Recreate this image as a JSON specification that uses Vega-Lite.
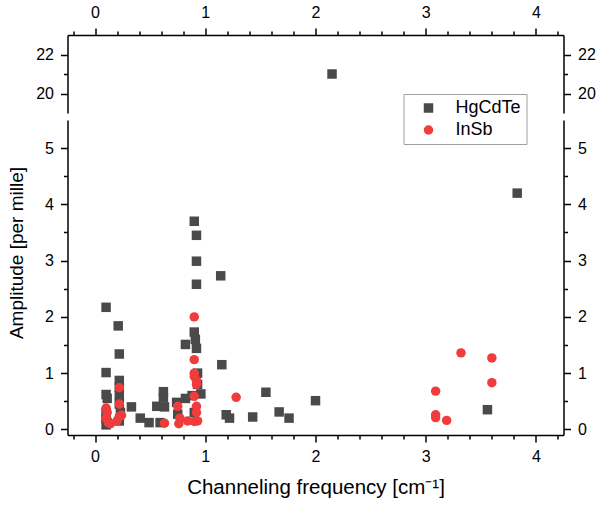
{
  "$schema": "https://vega.github.io/schema/vega-lite/v6.json",
  "padding": {"left": 6.5, "top": 4, "right": 4, "bottom": 4},
  "background": "white",
  "data": {"values": [
    {"Material": "HgCdTe", "Frequency": 0.10, "Amplitude": 2.17},
    {"Material": "HgCdTe", "Frequency": 0.10, "Amplitude": 1.01},
    {"Material": "HgCdTe", "Frequency": 0.10, "Amplitude": 0.62},
    {"Material": "HgCdTe", "Frequency": 0.11, "Amplitude": 0.55},
    {"Material": "HgCdTe", "Frequency": 0.10, "Amplitude": 0.30},
    {"Material": "HgCdTe", "Frequency": 0.10, "Amplitude": 0.20},
    {"Material": "HgCdTe", "Frequency": 0.11, "Amplitude": 0.12},
    {"Material": "HgCdTe", "Frequency": 0.10, "Amplitude": 0.08},
    {"Material": "HgCdTe", "Frequency": 0.21, "Amplitude": 1.84},
    {"Material": "HgCdTe", "Frequency": 0.22, "Amplitude": 1.34},
    {"Material": "HgCdTe", "Frequency": 0.22, "Amplitude": 0.87},
    {"Material": "HgCdTe", "Frequency": 0.22, "Amplitude": 0.75},
    {"Material": "HgCdTe", "Frequency": 0.22, "Amplitude": 0.60},
    {"Material": "HgCdTe", "Frequency": 0.22, "Amplitude": 0.45},
    {"Material": "HgCdTe", "Frequency": 0.23, "Amplitude": 0.30},
    {"Material": "HgCdTe", "Frequency": 0.22, "Amplitude": 0.15},
    {"Material": "HgCdTe", "Frequency": 0.33, "Amplitude": 0.40},
    {"Material": "HgCdTe", "Frequency": 0.41, "Amplitude": 0.20},
    {"Material": "HgCdTe", "Frequency": 0.49, "Amplitude": 0.12},
    {"Material": "HgCdTe", "Frequency": 0.59, "Amplitude": 0.12},
    {"Material": "HgCdTe", "Frequency": 0.56, "Amplitude": 0.41},
    {"Material": "HgCdTe", "Frequency": 0.62, "Amplitude": 0.67},
    {"Material": "HgCdTe", "Frequency": 0.62, "Amplitude": 0.56},
    {"Material": "HgCdTe", "Frequency": 0.63, "Amplitude": 0.40},
    {"Material": "HgCdTe", "Frequency": 0.74, "Amplitude": 0.48},
    {"Material": "HgCdTe", "Frequency": 0.75, "Amplitude": 0.27},
    {"Material": "HgCdTe", "Frequency": 0.82, "Amplitude": 0.55},
    {"Material": "HgCdTe", "Frequency": 0.82, "Amplitude": 1.51},
    {"Material": "HgCdTe", "Frequency": 0.88, "Amplitude": 0.60},
    {"Material": "HgCdTe", "Frequency": 0.90, "Amplitude": 3.70},
    {"Material": "HgCdTe", "Frequency": 0.92, "Amplitude": 3.45},
    {"Material": "HgCdTe", "Frequency": 0.92, "Amplitude": 2.99},
    {"Material": "HgCdTe", "Frequency": 0.92, "Amplitude": 2.58},
    {"Material": "HgCdTe", "Frequency": 0.90, "Amplitude": 1.73},
    {"Material": "HgCdTe", "Frequency": 0.91, "Amplitude": 1.60},
    {"Material": "HgCdTe", "Frequency": 0.92, "Amplitude": 1.44},
    {"Material": "HgCdTe", "Frequency": 0.93, "Amplitude": 1.00},
    {"Material": "HgCdTe", "Frequency": 0.93, "Amplitude": 0.80},
    {"Material": "HgCdTe", "Frequency": 0.96, "Amplitude": 0.63},
    {"Material": "HgCdTe", "Frequency": 0.90, "Amplitude": 0.30},
    {"Material": "HgCdTe", "Frequency": 1.14, "Amplitude": 2.73},
    {"Material": "HgCdTe", "Frequency": 1.15, "Amplitude": 1.15},
    {"Material": "HgCdTe", "Frequency": 1.19, "Amplitude": 0.26},
    {"Material": "HgCdTe", "Frequency": 1.22, "Amplitude": 0.20},
    {"Material": "HgCdTe", "Frequency": 1.43, "Amplitude": 0.22},
    {"Material": "HgCdTe", "Frequency": 1.55, "Amplitude": 0.66},
    {"Material": "HgCdTe", "Frequency": 1.67, "Amplitude": 0.31},
    {"Material": "HgCdTe", "Frequency": 1.76, "Amplitude": 0.20},
    {"Material": "HgCdTe", "Frequency": 2.00, "Amplitude": 0.51},
    {"Material": "HgCdTe", "Frequency": 2.15, "Amplitude": 21.0},
    {"Material": "HgCdTe", "Frequency": 3.56, "Amplitude": 0.35},
    {"Material": "HgCdTe", "Frequency": 3.83, "Amplitude": 4.20},
    {"Material": "InSb", "Frequency": 0.10, "Amplitude": 0.38},
    {"Material": "InSb", "Frequency": 0.11, "Amplitude": 0.30},
    {"Material": "InSb", "Frequency": 0.10, "Amplitude": 0.20},
    {"Material": "InSb", "Frequency": 0.12, "Amplitude": 0.12},
    {"Material": "InSb", "Frequency": 0.14, "Amplitude": 0.10},
    {"Material": "InSb", "Frequency": 0.20, "Amplitude": 0.15},
    {"Material": "InSb", "Frequency": 0.22, "Amplitude": 0.23},
    {"Material": "InSb", "Frequency": 0.22, "Amplitude": 0.74},
    {"Material": "InSb", "Frequency": 0.22, "Amplitude": 0.45},
    {"Material": "InSb", "Frequency": 0.24, "Amplitude": 0.25},
    {"Material": "InSb", "Frequency": 0.63, "Amplitude": 0.11},
    {"Material": "InSb", "Frequency": 0.75, "Amplitude": 0.41},
    {"Material": "InSb", "Frequency": 0.77, "Amplitude": 0.20},
    {"Material": "InSb", "Frequency": 0.76, "Amplitude": 0.10},
    {"Material": "InSb", "Frequency": 0.84, "Amplitude": 0.15},
    {"Material": "InSb", "Frequency": 0.90, "Amplitude": 0.14},
    {"Material": "InSb", "Frequency": 0.90, "Amplitude": 2.00},
    {"Material": "InSb", "Frequency": 0.90, "Amplitude": 1.24},
    {"Material": "InSb", "Frequency": 0.90, "Amplitude": 1.00},
    {"Material": "InSb", "Frequency": 0.90, "Amplitude": 0.94},
    {"Material": "InSb", "Frequency": 0.92, "Amplitude": 0.87},
    {"Material": "InSb", "Frequency": 0.92, "Amplitude": 0.80},
    {"Material": "InSb", "Frequency": 0.90, "Amplitude": 0.59},
    {"Material": "InSb", "Frequency": 0.92, "Amplitude": 0.41},
    {"Material": "InSb", "Frequency": 0.92, "Amplitude": 0.30},
    {"Material": "InSb", "Frequency": 0.93, "Amplitude": 0.15},
    {"Material": "InSb", "Frequency": 1.28, "Amplitude": 0.57},
    {"Material": "InSb", "Frequency": 3.09, "Amplitude": 0.68},
    {"Material": "InSb", "Frequency": 3.09, "Amplitude": 0.26},
    {"Material": "InSb", "Frequency": 3.09, "Amplitude": 0.21},
    {"Material": "InSb", "Frequency": 3.19, "Amplitude": 0.16},
    {"Material": "InSb", "Frequency": 3.32, "Amplitude": 1.36},
    {"Material": "InSb", "Frequency": 3.60, "Amplitude": 1.27},
    {"Material": "InSb", "Frequency": 3.60, "Amplitude": 0.83}
  ]},
  "spacing": 7,
  "vconcat": [
    {
      "width": 496,
      "height": 78,
      "encoding": {
        "x": {
          "field": "Frequency",
          "type": "quantitative",
          "scale": {"domain": [-0.25, 4.25], "nice": false, "zero": false},
          "axis": {
            "orient": "top",
            "title": null,
            "labelPadding": 8,
            "values": [-0.2, 0, 0.2, 0.4, 0.6, 0.8, 1, 1.2, 1.4, 1.6, 1.8, 2, 2.2, 2.4, 2.6, 2.8, 3, 3.2, 3.4, 3.6, 3.8, 4, 4.2],
            "labelExpr": "datum.value % 1 === 0 ? format(datum.value, 'd') : ''",
            "tickSize": {"condition": {"test": "datum.value % 1 === 0", "value": 7}, "value": 4}
          }
        }
      },
      "layer": [
        {
          "transform": [{"filter": "datum.Amplitude > 10"}],
          "mark": {"type": "point", "filled": true, "opacity": 1, "size": 90},
          "encoding": {
            "y": {
              "field": "Amplitude",
              "type": "quantitative",
              "scale": {"domain": [19, 23], "nice": false, "zero": false},
              "axis": {
                "orient": "left",
                "title": null,
                "values": [20, 21, 22],
                "labelExpr": "datum.value % 2 === 0 ? format(datum.value, 'd') : ''",
                "tickSize": {"condition": {"test": "datum.value % 2 === 0", "value": 7}, "value": 4}
              }
            },
            "color": {"field": "Material", "type": "nominal", "scale": {"domain": ["HgCdTe", "InSb"], "range": ["#4a4a4a", "#f03c3c"]}, "legend": {"title": null}},
            "shape": {"field": "Material", "type": "nominal", "scale": {"domain": ["HgCdTe", "InSb"], "range": ["square", "circle"]}, "legend": {"title": null}}
          }
        },
        {
          "transform": [{"filter": "datum.Amplitude > 10"}],
          "mark": {"type": "point", "opacity": 0},
          "encoding": {
            "y": {
              "field": "Amplitude",
              "type": "quantitative",
              "scale": {"domain": [19, 23], "nice": false, "zero": false},
              "axis": {
                "orient": "right",
                "title": null,
                "values": [20, 21, 22],
                "labelExpr": "datum.value % 2 === 0 ? format(datum.value, 'd') : ''",
                "tickSize": {"condition": {"test": "datum.value % 2 === 0", "value": 7}, "value": 4}
              }
            }
          }
        },
        {
          "data": {"values": [{}]},
          "mark": {"type": "text", "text": "=", "angle": -50, "fontSize": 17, "align": "center", "baseline": "middle", "font": "Liberation Sans"},
          "encoding": {
            "x": {"datum": -0.25, "type": "quantitative"},
            "y": {"datum": 18.82, "type": "quantitative", "scale": {"domain": [19, 23], "nice": false, "zero": false}, "axis": null}
          }
        },
        {
          "data": {"values": [{}]},
          "mark": {"type": "text", "text": "=", "angle": -50, "fontSize": 17, "align": "center", "baseline": "middle", "font": "Liberation Sans"},
          "encoding": {
            "x": {"datum": 4.25, "type": "quantitative"},
            "y": {"datum": 18.82, "type": "quantitative", "scale": {"domain": [19, 23], "nice": false, "zero": false}, "axis": null}
          }
        }
      ],
      "resolve": {"scale": {"y": "independent"}}
    },
    {
      "width": 496,
      "height": 315,
      "transform": [{"filter": "datum.Amplitude < 10"}],
      "encoding": {
        "x": {
          "field": "Frequency",
          "type": "quantitative",
          "scale": {"domain": [-0.25, 4.25], "nice": false, "zero": false},
          "axis": {
            "orient": "bottom",
            "title": "Channeling frequency [cm⁻¹]",
            "titleFontSize": 20.5,
            "titlePadding": 13,
            "labelPadding": 6,
            "values": [-0.2, 0, 0.2, 0.4, 0.6, 0.8, 1, 1.2, 1.4, 1.6, 1.8, 2, 2.2, 2.4, 2.6, 2.8, 3, 3.2, 3.4, 3.6, 3.8, 4, 4.2],
            "labelExpr": "datum.value % 1 === 0 ? format(datum.value, 'd') : ''",
            "tickSize": {"condition": {"test": "datum.value % 1 === 0", "value": 7}, "value": 4}
          }
        }
      },
      "layer": [
        {
          "mark": {"type": "point", "filled": true, "opacity": 1, "size": 90},
          "encoding": {
            "y": {
              "field": "Amplitude",
              "type": "quantitative",
              "scale": {"domain": [-0.1, 5.5], "nice": false, "zero": false},
              "axis": {
                "orient": "left",
                "title": "Amplitude [per mille]",
                "titleFontSize": 19,
                "titleY": 132.5,
                "titlePadding": 18.5,
                "values": [0, 0.5, 1, 1.5, 2, 2.5, 3, 3.5, 4, 4.5, 5],
                "labelExpr": "datum.value % 1 === 0 ? format(datum.value, 'd') : ''",
                "tickSize": {"condition": {"test": "datum.value % 1 === 0", "value": 7}, "value": 4}
              }
            },
            "color": {"field": "Material", "type": "nominal", "scale": {"domain": ["HgCdTe", "InSb"], "range": ["#4a4a4a", "#f03c3c"]}, "legend": {"title": null}},
            "shape": {"field": "Material", "type": "nominal", "scale": {"domain": ["HgCdTe", "InSb"], "range": ["square", "circle"]}, "legend": {"title": null}}
          }
        },
        {
          "mark": {"type": "point", "opacity": 0},
          "encoding": {
            "y": {
              "field": "Amplitude",
              "type": "quantitative",
              "scale": {"domain": [-0.1, 5.5], "nice": false, "zero": false},
              "axis": {
                "orient": "right",
                "title": null,
                "values": [0, 0.5, 1, 1.5, 2, 2.5, 3, 3.5, 4, 4.5, 5],
                "labelExpr": "datum.value % 1 === 0 ? format(datum.value, 'd') : ''",
                "tickSize": {"condition": {"test": "datum.value % 1 === 0", "value": 7}, "value": 4}
              }
            }
          }
        }
      ],
      "resolve": {"scale": {"y": "independent"}}
    }
  ],
  "config": {
    "view": {"stroke": null},
    "font": "Liberation Sans",
    "axis": {
      "grid": false,
      "domainColor": "black",
      "domainWidth": 1.5,
      "tickColor": "black",
      "tickWidth": 1.5,
      "labelFont": "Liberation Sans",
      "labelFontSize": 16,
      "labelColor": "black",
      "labelPadding": 7,
      "labelOverlap": false,
      "labelFlush": false,
      "titleFont": "Liberation Sans",
      "titleFontSize": 20,
      "titleFontWeight": "normal",
      "titleColor": "black"
    },
    "legend": {
      "orient": "none",
      "legendX": 336,
      "legendY": 59,
      "padding": 5,
      "strokeColor": "#a0a0a0",
      "fillColor": "white",
      "symbolSize": 90,
      "symbolType": "square",
      "symbolOffset": 11,
      "labelOffset": 18,
      "labelFont": "Liberation Sans",
      "labelFontSize": 18,
      "labelColor": "black",
      "rowPadding": 4
    }
  }
}
